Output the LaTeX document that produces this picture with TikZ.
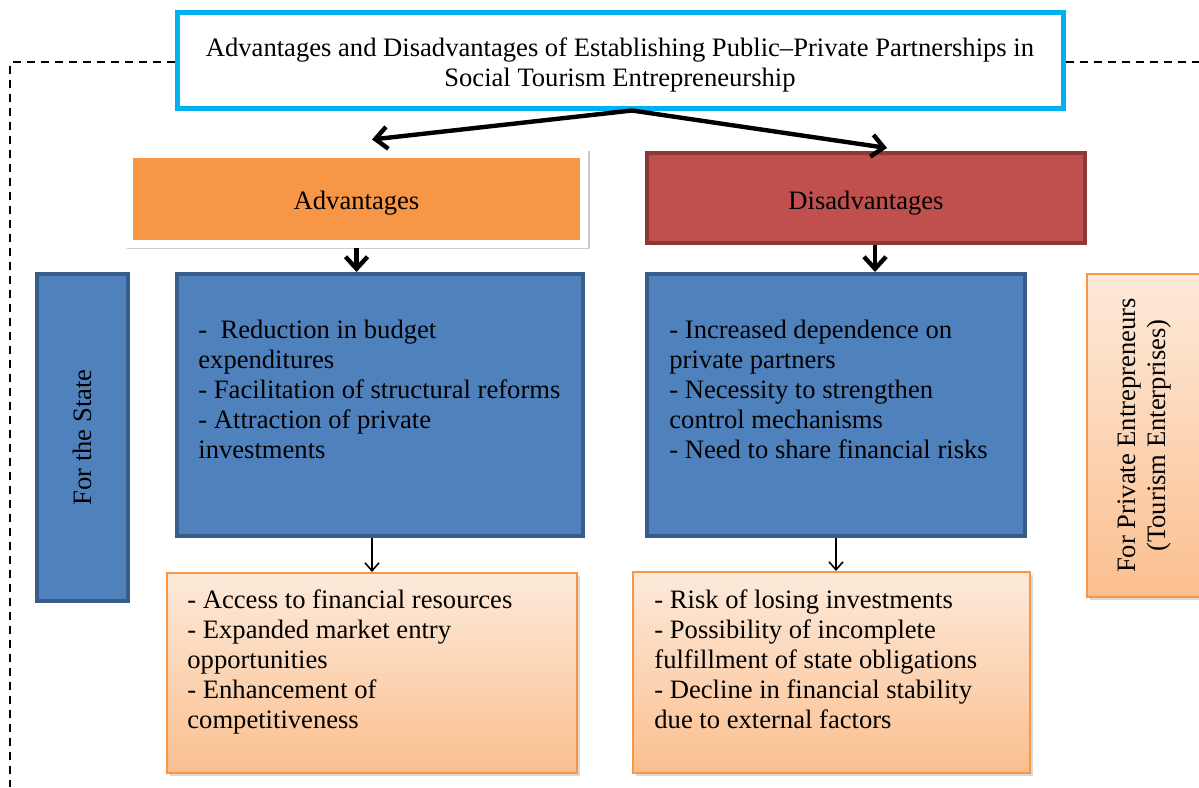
\documentclass[tikz,border=0pt]{standalone}
\usepackage{fontspec}
\setmainfont{Liberation Serif}
\usetikzlibrary{arrows.meta,shadows}
\definecolor{titlecyan}{HTML}{00B0F0}
\definecolor{advorange}{HTML}{F79646}
\definecolor{disred}{HTML}{C0504D}
\definecolor{disredline}{HTML}{8C3836}
\definecolor{stateblue}{HTML}{4F81BD}
\definecolor{stateblueline}{HTML}{385D8A}
\definecolor{peachtop}{HTML}{FDEADA}
\definecolor{peachbottom}{HTML}{FBBF8F}
\begin{document}
\begin{tikzpicture}[x=0.5pt,y=-0.5pt,
    every node/.style={font=\fontsize{13.3}{15}\selectfont, inner sep=0pt},
    headbox/.style={minimum height=45pt, text height=12pt, text depth=0.8pt},
    bluebox/.style={draw=stateblueline, line width=2pt, fill=stateblue},
    peachbox/.style={draw=advorange, line width=1pt, top color=peachtop, bottom color=peachbottom,
        drop shadow={opacity=0.3, shadow xshift=1.5pt, shadow yshift=-1.5pt}},
    listtext/.style={anchor=base west, align=left},
    frameline/.style={dash pattern=on 4pt off 3pt, line width=0.7pt},
    bigarrow/.style={line width=2.2pt, -{Straight Barb[length=6pt,width=11pt]}},
    thinarrow/.style={line width=0.8pt, -{Straight Barb[length=4pt,width=7pt]}}]
    \useasboundingbox (0,0) rectangle (1199,787);
    % dashed frame round the scheme
    \coordinate (dashcorner) at (10,62);
    \coordinate (dashend) at (10,787);
    \coordinate (dashright) at (1199,62);
    \node[draw=titlecyan, line width=2.5pt, fill=white, minimum width=443pt, minimum height=48pt, align=center] (title) at (620,60)
        {\rule{0pt}{14pt}Advantages and Disadvantages of Establishing Public--Private Partnerships in\\Social Tourism Entrepreneurship};
    \draw[frameline] (title.west |- dashcorner) -- (dashcorner) -- (dashend);
    \draw[frameline] (title.east |- dashright) -- (dashright);
    % headings
    \node[headbox, fill=advorange, draw=white, line width=4pt, minimum width=227.5pt,
        drop shadow={opacity=0.2, shadow xshift=0.8pt, shadow yshift=-0.8pt, draw=black, line width=4pt}] (adv) at (356.5,198.5) {Advantages};
    \node[headbox, fill=disred, draw=disredline, line width=2pt, minimum width=219pt] (dis) at (866,198) {Disadvantages};
    % for the state
    \node[bluebox, rotate=90, minimum width=163.5pt, minimum height=45.5pt] (state) at (82.5,437.5) {For the State};
    \node[bluebox, minimum width=203pt, minimum height=131pt] (advstate) at (380,405) {};
    \node[bluebox, minimum width=189pt, minimum height=131pt] (disstate) at (836,405) {};
    % list texts are placed at the baseline of their last line
    \node[listtext] (advstatetext) at (198,458)
        {-\ \ Reduction in budget\\expenditures\\- Facilitation of structural reforms\\- Attraction of private\\investments};
    \node[listtext] (disstatetext) at (669,458)
        {- Increased dependence on\\private partners\\- Necessity to strengthen\\control mechanisms\\- Need to share financial risks};
    % for private entrepreneurs
    \node[peachbox, minimum width=58pt, minimum height=161.5pt] (private) at (1145,435.5) {};
    \node[rotate=90, align=center] (privatetext) at (private.center) {For Private Entrepreneurs\\(Tourism Enterprises)};
    \node[peachbox, minimum width=205pt, minimum height=100pt] (advprivate) at (372,673) {};
    \node[peachbox, minimum width=198.5pt, minimum height=100.5pt] (disprivate) at (831.5,672.5) {};
    \node[listtext] (advprivatetext) at (187,728)
        {- Access to financial resources\\- Expanded market entry\\opportunities\\- Enhancement of\\competitiveness};
    \node[listtext] (disprivatetext) at (654,728)
        {- Risk of losing investments\\- Possibility of incomplete\\fulfillment of state obligations\\- Decline in financial stability\\due to external factors};
    % arrows
    \draw[bigarrow] ([xshift=6pt]title.south) -- ([xshift=7.75pt,yshift=5pt]adv.north);
    \draw[bigarrow] ([xshift=6pt]title.south) -- ([xshift=10.5pt,yshift=1.5pt]dis.north);
    \draw[bigarrow] (adv.south) -- (adv.south |- advstate.north);
    \draw[bigarrow] ([xshift=4.5pt]dis.south) -- ([xshift=4.5pt]dis.south |- disstate.north);
    \draw[thinarrow] (advprivate.north |- advstate.south) -- (advprivate.north);
    \draw[thinarrow] (disstate.south) -- (disstate.south |- disprivate.north);
\end{tikzpicture}
\end{document}
